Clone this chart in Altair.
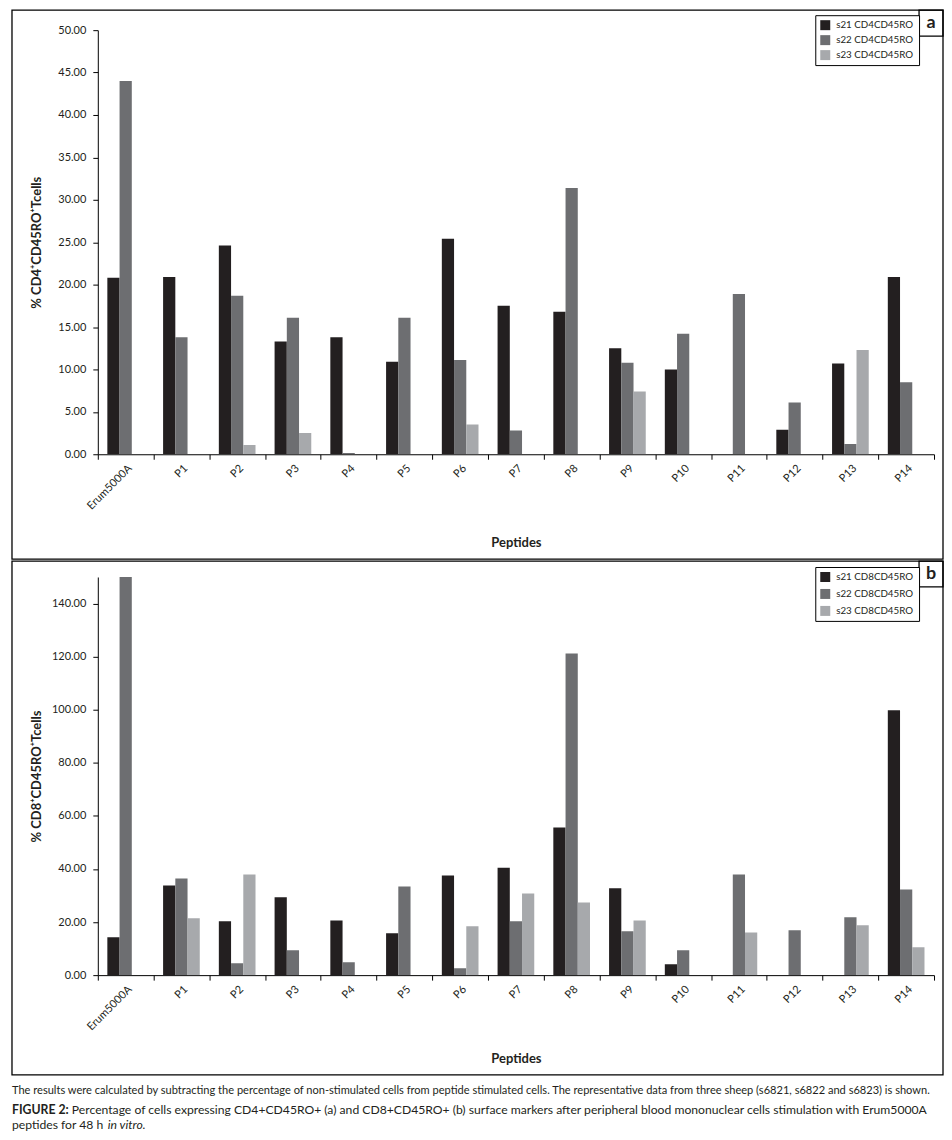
import altair as alt
import pandas as pd

peptides = ["Erum5000A", "P1", "P2", "P3", "P4", "P5", "P6", "P7",
            "P8", "P9", "P10", "P11", "P12", "P13", "P14"]

cd4_series = ["s21 CD4CD45RO", "s22 CD4CD45RO", "s23 CD4CD45RO"]
cd4_s21 = [20.8, 20.9, 24.6, 13.3, 13.8, 10.9, 25.4, 17.5, 16.8, 12.5, 10.0, 0.0, 2.9, 10.7, 20.9]
cd4_s22 = [44.0, 13.8, 18.7, 16.1, 0.15, 16.1, 11.1, 2.8, 31.4, 10.8, 14.2, 18.9, 6.1, 1.2, 8.5]
cd4_s23 = [0.0, 0.0, 1.1, 2.5, 0.0, 0.0, 3.5, 0.0, 0.0, 7.4, 0.0, 0.0, 0.0, 12.3, 0.0]

cd8_series = ["s21 CD8CD45RO", "s22 CD8CD45RO", "s23 CD8CD45RO"]
cd8_s21 = [14.3, 33.8, 20.3, 29.3, 20.6, 15.8, 37.5, 40.5, 55.6, 32.7, 4.1, 0.0, 0.0, 0.0, 99.8]
cd8_s22 = [150.0, 36.4, 4.5, 9.4, 4.9, 33.4, 2.6, 20.3, 121.2, 16.5, 9.4, 37.9, 16.9, 21.8, 32.3]
cd8_s23 = [0.0, 21.4, 37.9, 0.0, 0.0, 0.0, 18.4, 30.8, 27.4, 20.6, 0.0, 16.1, 0.0, 18.8, 10.5]

cd4_ticks = [0, 5, 10, 15, 20, 25, 30, 35, 40, 45, 50]
cd8_ticks = [0, 20, 40, 60, 80, 100, 120, 140]

colors = ["#231f20", "#6d6e71", "#a7a9ac"]

caption1 = ("The results were calculated by subtracting the percentage of non-stimulated cells from "
            "peptide stimulated cells. The representative data from three sheep (s6821, s6822 and s6823) is shown.")
caption2a = "FIGURE 2:"
caption2b = ("Percentage of cells expressing CD4+CD45RO+ (a) and CD8+CD45RO+ (b) surface markers after "
             "peripheral blood mononuclear cells stimulation with Erum5000A")
caption3a = "peptides for 48 h"
caption3b = "in vitro."

FONT = "Lato"
CAP_FONT = "Lato"
W = 838


def long_df(series, lists):
    rows = []
    for s, vals in zip(series, lists):
        for p, v in zip(peptides, vals):
            if v > 0:
                rows.append({"peptide": p, "series": s, "value": v})
    return pd.DataFrame(rows)


one = alt.Data(values=[{"k": 1}])


def panel(df, series, ytitle, ymax, yticks, H, fy1, fy2, letter, letter_y2,
          legend_y, row_pad, title_y, extra=()):
    bars = alt.Chart(df).mark_bar(clip=True).encode(
        x=alt.X("peptide:N", sort=peptides,
                scale=alt.Scale(domain=peptides, paddingInner=0, paddingOuter=0),
                axis=alt.Axis(title="Peptides", titleFont=FONT, titleFontWeight="bold",
                              titleFontSize=13, titleY=title_y, titleBaseline="middle",
                              titleColor="#231f20",
                              labelAngle=-45, labelFont=FONT, labelFontSize=11,
                              labelColor="#231f20", labelPadding=3,
                              tickBand="extent", tickSize=5, tickColor="black",
                              domainColor="black", grid=False)),
        xOffset=alt.XOffset("series:N", sort=series,
                            scale=alt.Scale(domain=series, paddingInner=0, paddingOuter=0.78)),
        y=alt.Y("value:Q", scale=alt.Scale(domain=[0, ymax], nice=False),
                axis=alt.Axis(title=ytitle, titleFont=FONT, titleFontWeight="bold",
                              titleFontSize=13, titleX=-61, titleBaseline="middle",
                              titleColor="#231f20",
                              values=yticks, format=".2f", labelFont=FONT, labelFontSize=11,
                              labelColor="#231f20", labelPadding=7,
                              tickSize=5, tickColor="black", domainColor="black", grid=False)),
        color=alt.Color("series:N", sort=series,
                        scale=alt.Scale(domain=series, range=colors),
                        legend=alt.Legend(title=None, orient="none", legendX=719, legendY=legend_y,
                                          strokeColor="black", padding=5, fillColor="white",
                                          symbolType="square", symbolSize=100, symbolStrokeWidth=0,
                                          labelFont=FONT, labelFontSize=9.8, labelColor="#231f20",
                                          labelOffset=6, rowPadding=row_pad)),
    )
    frame = alt.Chart(one).mark_rect(fillOpacity=0, stroke="black", strokeWidth=1.3).encode(
        x=alt.value(-86), x2=alt.value(847), y=alt.value(fy1), y2=alt.value(fy2))
    lbox = alt.Chart(one).mark_rect(fillOpacity=0, stroke="black", strokeWidth=1.3).encode(
        x=alt.value(823), x2=alt.value(847), y=alt.value(fy1), y2=alt.value(letter_y2))
    ltext = alt.Chart(one).mark_text(text=letter, font=FONT, fontWeight="bold", fontSize=18,
                                     color="#231f20", align="center", baseline="middle").encode(
        x=alt.value(835), y=alt.value((fy1 + letter_y2) / 2))
    return alt.layer(frame, lbox, ltext, bars, *extra).properties(width=W, height=H)


def cap(text, x, y, size=11.5, weight="normal", style="normal"):
    return alt.Chart(one).mark_text(text=text, font=CAP_FONT, fontSize=size, fontWeight=weight,
                                    fontStyle=style, color="#231f20", align="left",
                                    baseline="middle").encode(x=alt.value(x), y=alt.value(y))


top = panel(long_df(cd4_series, [cd4_s21, cd4_s22, cd4_s23]), cd4_series,
            "% CD4\u207aCD45RO\u207aTcells", 50, cd4_ticks, 425, -20, 530, "a", 6,
            -15, 5, 88)

captions = [
    cap(caption1, -86, 515, 11.1),
    cap(caption2a, -86, 534, 12.3, weight="bold"),
    cap(caption2b, -26, 534, 12.2),
    cap(caption3a, -86, 549, 12.2),
    cap(caption3b, 10, 549, 12.2, style="italic"),
]

bottom = panel(long_df(cd8_series, [cd8_s21, cd8_s22, cd8_s23]), cd8_series,
               "% CD8\u207aCD45RO\u207aTcells", 150, cd8_ticks, 399, -16, 499, "b", 10,
               -10, 7, 84, extra=captions)

chart = alt.vconcat(top, bottom, spacing=0).resolve_scale(
    color="independent", x="independent", y="independent", xOffset="independent"
).resolve_legend(color="independent").properties(
    padding={"left": 3, "top": 0, "right": 0, "bottom": 5}
).configure_view(strokeWidth=0)

chart.save("out.html", embed_options={"renderer": "svg", "actions": False})
